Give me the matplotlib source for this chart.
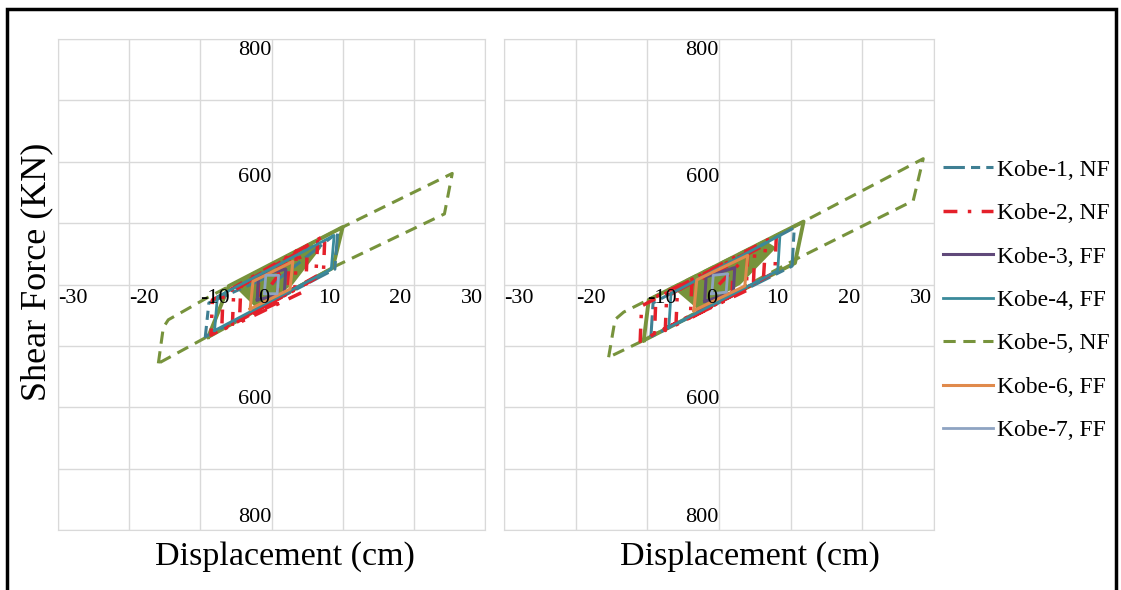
import matplotlib.pyplot as plt
from matplotlib.patches import Rectangle

plt.rcParams['font.family'] = ['Liberation Serif', 'DejaVu Serif']

# axis ticks
x_ticks = [-30, -20, -10, 0, 10, 20, 30]
y_grid = [-800, -600, -400, -200, 0, 200, 400, 600, 800]
y_tick_text = ['800', '600', '600', '800']
y_tick_at = [764, 350, -376, -760]

labels = ['Kobe-1, NF', 'Kobe-2, NF', 'Kobe-3, FF', 'Kobe-4, FF',
          'Kobe-5, NF', 'Kobe-6, FF', 'Kobe-7, FF']
colors = ['#3F7F93', '#E4202A', '#60497A', '#3A8A9A', '#77933C', '#E08A4C', '#8EA3C2']

# ---- left panel (displacement cm, force kN) ----
k1_lx = [0, 9.3, 8.9, -9.3, -8.8, 0]
k1_ly = [0, 170, 50, -170, -60, 30]
k2_lx = [0, 3.5, 3.3, -4.5, -4.3, 6.5, 6.2, -7.0, -6.8, 7.5, 7.3, -8.5, -8.3, 1.0, 0.8,
         -2.0, -1.8, 5.0, 4.8, -5.5, -5.3, 2.5, 2.3, -3.5]
k2_ly = [0, 110, -10, -120, 0, 140, 20, -150, -30, 160, 40, -165, -50, 60, -60,
         -90, 20, 100, -20, -135, -20, 90, -30, -100]
k3_lx = [-2.0, -1.8, 2.0, 1.8, -2.0]
k3_ly = [-50, 30, 50, -30, -50]
k4_lx = [-8.0, -7.6, 8.8, 8.4, -8.0]
k4_ly = [-150, -40, 160, 50, -150]
k5_lx = [-15.9, -15.2, -14.5, -9.1, 10.0, 25.4, 24.3, 9.0, -9.1, -15.9]
k5_ly = [-257, -140, -115, -44, 187, 362, 230, 60, -171, -257]
k5_in_lx = [-8.9, -6.0, 10.0, 8.6, -8.9]
k5_in_ly = [-171, -5, 187, 54, -171]
k5_core_lx = [-5.5, 0.0, 5.5, 7.0, 3.0, -2.0, -5.5]
k5_core_ly = [0, 67, 133, 120, 0, -80, 0]
k6_lx = [-3.0, -2.6, 3.0, 2.6, -3.0]
k6_ly = [-80, 10, 75, -15, -80]
k7_lx = [-1.0, -0.8, 1.0, 0.8, -1.0]
k7_ly = [-30, 30, 30, -30, -30]

# ---- right panel ----
k1_rx = [-9.5, -9.2, 10.5, 10.2, -9.5]
k1_ry = [-170, -60, 185, 60, -170]
k2_rx = [0, 4.0, 3.8, -6.0, -5.8, 6.5, 6.2, -11.0, -10.8, 8.0, 7.8, -4.0, -3.8, 2.0, 1.8,
         -9.0, -8.8, 5.0, 4.8, -7.5, -7.3, 0]
k2_ry = [0, 95, -20, -130, -20, 130, 20, -185, -70, 160, 40, -110, 0, 70, -40,
         -160, -40, 115, 0, -150, -40, 60]
k3_rx = [-2.0, -1.8, 2.2, 2.0, -2.0]
k3_ry = [-55, 25, 55, -25, -55]
k4_rx = [-7.0, -6.7, 8.5, 8.2, -7.0]
k4_ry = [-140, -30, 160, 45, -140]
k5_rx = [-15.4, -14.5, -13.3, 11.8, 28.5, 27.1, 10.8, -10.5, -15.4]
k5_ry = [-237, -114, -90, 205, 410, 273, 83, -182, -237]
k5_in_rx = [-10.5, -9.8, 11.8, 10.6, -10.5]
k5_in_ry = [-182, -50, 205, 70, -182]
k5_core_rx = [-6.5, 0.0, 6.5, 8.0, 3.0, -3.0, -6.5]
k5_core_ry = [-10, 66, 142, 120, 0, -80, -10]
k6_rx = [-3.5, -3.1, 4.0, 3.6, -3.5]
k6_ry = [-85, 15, 95, -5, -85]
k7_rx = [-1.0, -0.8, 1.2, 1.0, -1.0]
k7_ry = [-30, 30, 35, -25, -30]

left = [(k1_lx, k1_ly), (k2_lx, k2_ly), (k3_lx, k3_ly), (k4_lx, k4_ly),
        (k5_lx, k5_ly), (k6_lx, k6_ly), (k7_lx, k7_ly)]
right = [(k1_rx, k1_ry), (k2_rx, k2_ry), (k3_rx, k3_ry), (k4_rx, k4_ry),
         (k5_rx, k5_ry), (k6_rx, k6_ry), (k7_rx, k7_ry)]
styles = [dict(dashes=[7, 2, 3, 2]), dict(dashes=[4, 3, 1, 3]), dict(ls='-'), dict(ls='-'),
          dict(dashes=[4, 2.5]), dict(ls='-'), dict(ls='-')]
widths = [2.2, 2.5, 2.2, 2.0, 2.2, 2.2, 2.0]

fig = plt.figure(figsize=(11.21, 5.9), dpi=100)
ax1 = fig.add_axes([58/1121, 1 - 530/590, 427/1121, 491/590])
ax2 = fig.add_axes([504/1121, 1 - 530/590, 430/1121, 491/590])

panels = [(ax1, left, (k5_in_lx, k5_in_ly), (k5_core_lx, k5_core_ly)),
          (ax2, right, (k5_in_rx, k5_in_ry), (k5_core_rx, k5_core_ry))]

handles = []
for ax, data, inner, core in panels:
    ax.set_xlim(-30, 30)
    ax.set_ylim(-800, 800)
    ax.set_xticks(x_ticks)
    ax.set_yticks(y_grid)
    ax.tick_params(length=0, labelbottom=False, labelleft=False)
    ax.grid(True, color='#D9D9D9', lw=1)
    for s in ax.spines.values():
        s.set_color('#D9D9D9')
    ax.set_axisbelow(True)
    # dense inner Kobe-5 cycles read as a filled core
    ax.fill(core[0], core[1], color=colors[4], lw=0, zorder=2)
    ax.plot(inner[0], inner[1], color=colors[4], lw=2.8, solid_joinstyle='round', zorder=3)
    hs = []
    for i, (xs, ys) in enumerate(data):
        z = 3 if i == 4 else 4
        h, = ax.plot(xs, ys, color=colors[i], lw=widths[i], label=labels[i], zorder=z, **styles[i])
        hs.append(h)
    handles = hs
    for v in x_ticks:
        if v < 0:
            ax.text(v, -14, str(v), ha='left', va='top', fontsize=16, zorder=5)
        else:
            ax.text(v - 0.3, -14, str(v), ha='right', va='top', fontsize=16, zorder=5)
    for t, v in zip(y_tick_text, y_tick_at):
        ax.text(0, v, t, ha='right', va='center', fontsize=16, zorder=5)

fig.text(37/1121, 1 - 272/590, 'Shear Force (KN)', rotation=90, ha='center', va='center', fontsize=26)
fig.text(285/1121, 1 - 557/590, 'Displacement (cm)', ha='center', va='center', fontsize=24.5)
fig.text(750/1121, 1 - 557/590, 'Displacement (cm)', ha='center', va='center', fontsize=24.5)

fig.legend(handles=handles, loc='upper left', bbox_to_anchor=(943/1121, 1 - 159/590),
           frameon=False, fontsize=17, handlelength=2.1, handletextpad=0.2,
           labelspacing=0.93, borderpad=0, borderaxespad=0)

fig.patches.append(Rectangle((7/1121, -0.05), 1109/1121, 1.05 - 9/590, transform=fig.transFigure,
                             fill=False, edgecolor='black', lw=2.5))

fig.savefig('out.png', dpi=100)
